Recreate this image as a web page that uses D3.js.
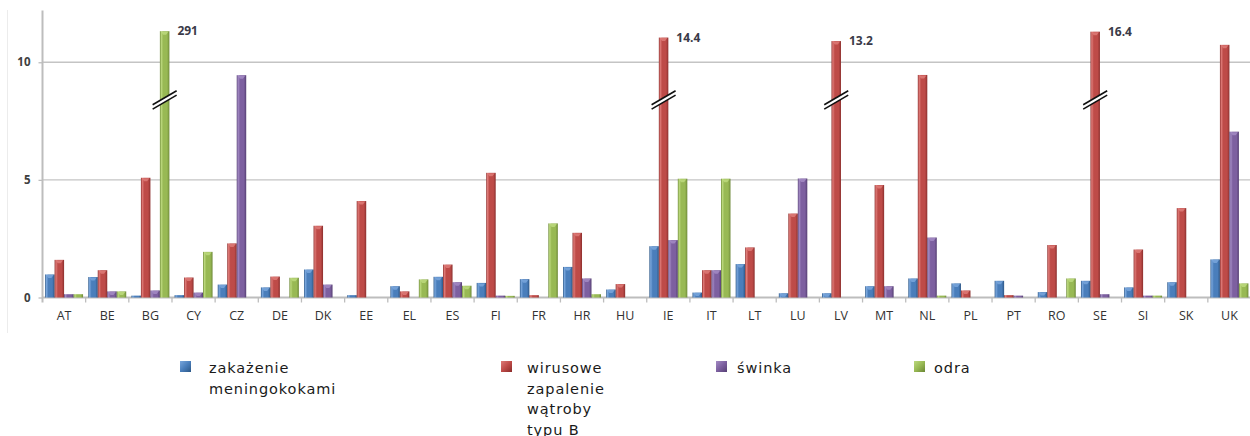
<!DOCTYPE html>
<html>
<head>
<meta charset="utf-8">
<script src="https://cdn.jsdelivr.net/npm/d3@7"></script>
<style>
  html, body { margin: 0; padding: 0; background: #fff; }
  svg { display: block; }
</style>
</head>
<body>
<svg id="chart" width="1250" height="436"></svg>
<script>
// Country codes along the x axis
const categories = ["AT","BE","BG","CY","CZ","DE","DK","EE","EL","ES","FI","FR","HR","HU",
                    "IE","IT","LT","LU","LV","MT","NL","PL","PT","RO","SE","SI","SK","UK"];

// Rates per 100 000 population, one array per disease
const meningococcal = [0.98,0.87,0.08,0.10,0.55,0.43,1.19,0.10,0.48,0.88,0.62,0.78,1.30,0.34,
                       2.18,0.21,1.42,0.18,0.18,0.48,0.81,0.60,0.71,0.23,0.71,0.43,0.65,1.62];
const hepatitisB    = [1.60,1.16,5.09,0.85,2.30,0.89,3.05,4.10,0.26,1.40,5.30,0.10,2.75,0.57,
                       14.4,1.16,2.13,3.57,13.2,4.78,9.46,0.30,0.10,2.23,16.4,2.04,3.80,10.74];
const mumps         = [0.14,0.26,0.30,0.21,9.45,0,0.55,0,0,0.65,0.08,0,0.81,0,
                       2.44,1.16,0,5.06,0,0.48,2.55,0,0.08,0,0.14,0.08,0,7.05];
const measles       = [0.14,0.26,291,1.94,0,0.84,0,0,0.77,0.50,0.07,3.15,0.14,0,
                       5.05,5.05,0,0,0,0,0.08,0,0,0.81,0,0.08,0,0.60];

const yTicks = [0, 5, 10];

const seriesNames = ["zakażenie\nmeningokokami", "wirusowe\nzapalenie\nwątroby\ntypu B", "świnka", "odra"];
const seriesValues = [meningococcal, hepatitisB, mumps, measles];

// Bevelled bar colours: dark edge, highlight, base, shade
const palette = [
  { dark: "#2b5685", light: "#79a6dc", base: "#4a7ebb", shade: "#3a679c" },
  { dark: "#8a2b29", light: "#de7b78", base: "#be4b48", shade: "#a13c3a" },
  { dark: "#563f74", light: "#a38bc4", base: "#7d60a0", shade: "#664d85" },
  { dark: "#6a8634", light: "#bcd97e", base: "#98b954", shade: "#819f45" }
];

const svg = d3.select("#chart");
const defs = svg.append("defs");

palette.forEach((c, i) => {
  const g = defs.append("linearGradient").attr("id", "bar" + i)
    .attr("x1", "0%").attr("x2", "100%").attr("y1", "0%").attr("y2", "0%");
  [[0, c.dark], [0.14, c.light], [0.35, c.base], [0.75, c.base], [0.9, c.shade], [1, c.dark]]
    .forEach(([o, col]) => g.append("stop").attr("offset", o).attr("stop-color", col));
  const lg = defs.append("linearGradient").attr("id", "leg" + i)
    .attr("x1", "0%").attr("x2", "100%").attr("y1", "0%").attr("y2", "100%");
  [[0, c.light], [0.5, c.base], [1, c.dark]]
    .forEach(([o, col]) => lg.append("stop").attr("offset", o).attr("stop-color", col));
});

// Plot geometry
const x0 = 42.5, x1 = 1251, yBase = 297.5;

const x = d3.scaleBand().domain(categories).range([x0, x1]).paddingInner(0).paddingOuter(0);
const xs = d3.scaleBand().domain(d3.range(4)).range([2.6, x.bandwidth() - 2.6]).padding(0);
const y = d3.scaleLinear().domain([0, 12.2]).range([yBase, 10.5]);

// Broken axis: values above the break are compressed into the top of the plot
const brk = d3.scaleLinear().domain([0, 10.8, 13.2, 16.4, 291]).range([0, 10.8, 10.9, 11.3, 11.32]);
const breakAt = 8.4;
const isBroken = v => v > 12;

const fontAxis = "'Open Sans', 'Liberation Sans', sans-serif";

// faint chart-area edge on the left
svg.append("line").attr("x1", 7.5).attr("x2", 7.5).attr("y1", 10).attr("y2", 333)
  .attr("stroke", "#ececec").attr("stroke-width", 1);

// Gridlines
svg.append("g").selectAll("line").data(yTicks.filter(d => d > 0)).join("line")
  .attr("x1", x0).attr("x2", 1250)
  .attr("y1", d => y(d)).attr("y2", d => y(d))
  .attr("stroke", "#c4c4c4").attr("stroke-width", 1.3);

// Y axis
const yAxis = svg.append("g").attr("transform", `translate(${x0},0)`)
  .call(d3.axisLeft(y).tickValues(yTicks).tickSize(4).tickPadding(8).tickFormat(d3.format("d")));
yAxis.select(".domain").attr("stroke", "#bdbdbd").attr("stroke-width", 2)
  .attr("d", `M0,${y.range()[1]}V${yBase + 5}`);
yAxis.selectAll(".tick line").attr("stroke", "#bdbdbd").attr("stroke-width", 1.3);
yAxis.selectAll(".tick text").attr("font-family", fontAxis).attr("font-size", 11.5)
  .attr("font-weight", 700).attr("fill", "#404040");

// X axis
const xAxis = svg.append("g").attr("transform", `translate(0,${yBase})`)
  .call(d3.axisBottom(x).tickSize(0).tickPadding(14));
xAxis.select(".domain").attr("stroke", "#bdbdbd").attr("stroke-width", 1.8)
  .attr("d", `M${x0},0H1250`);
xAxis.selectAll(".tick text").attr("font-family", fontAxis).attr("font-size", 12.5)
  .attr("fill", "#333");
// category separators
xAxis.append("g").selectAll("line").data(categories.slice(1)).join("line")
  .attr("x1", d => x(d)).attr("x2", d => x(d)).attr("y1", 0).attr("y2", 5)
  .attr("stroke", "#bdbdbd").attr("stroke-width", 1.3);

// Bars
const rows = [];
categories.forEach((cat, ci) => {
  seriesValues.forEach((vals, si) => {
    const v = vals[ci];
    if (v > 0) rows.push({ cat, si, v });
  });
});

const bars = svg.append("g");
const barX = d => x(d.cat) + xs(d.si);
const barW = xs.bandwidth();
const barTop = d => y(brk(d.v));

bars.selectAll("rect.bar").data(rows).join("rect").attr("class", "bar")
  .attr("x", barX).attr("width", barW)
  .attr("y", barTop).attr("height", d => Math.max(0.8, yBase - barTop(d)))
  .attr("fill", d => `url(#bar${d.si})`);

// light cap with a small bevel notch on the top of each bar
bars.selectAll("path.cap").data(rows.filter(d => yBase - barTop(d) > 4)).join("path").attr("class", "cap")
  .attr("d", d => {
    const l = barX(d) + 1, r = barX(d) + barW - 1, t = barTop(d) + 0.5, m = (l + r) / 2;
    return `M${l},${t}H${r}L${m + 1.5},${t + 3}H${m - 1.5}Z`;
  })
  .attr("fill", d => palette[d.si].light).attr("opacity", 0.85);

// Axis break marks on the truncated bars
const broken = rows.filter(d => isBroken(d.v));
const bg = svg.append("g");
broken.forEach(d => {
  const cx = barX(d) + barW / 2, cy = y(breakAt);
  const hw = 12, rise = 7, gap = 2.2;
  bg.append("path")
    .attr("d", `M${cx - hw},${cy + rise - gap}L${cx + hw},${cy - rise - gap}L${cx + hw},${cy - rise + gap}L${cx - hw},${cy + rise + gap}Z`)
    .attr("fill", "#fff");
  [-gap, gap].forEach(o => {
    bg.append("line")
      .attr("x1", cx - hw).attr("y1", cy + rise + o)
      .attr("x2", cx + hw).attr("y2", cy - rise + o)
      .attr("stroke", "#111").attr("stroke-width", 1.6);
  });
});

// Value labels for truncated bars
svg.append("g").selectAll("text").data(broken).join("text")
  .attr("x", d => barX(d) + barW + 8)
  .attr("y", d => barTop(d) + 4)
  .attr("font-family", fontAxis).attr("font-size", 12).attr("font-weight", 700)
  .attr("fill", "#3a3a48")
  .text(d => d3.format("~g")(d.v));

// Legend
const legendPos = [ { sx: 180, tx: 209 }, { sx: 501, tx: 527 }, { sx: 716, tx: 737 }, { sx: 914, tx: 934 } ];
const legend = svg.append("g");
seriesNames.forEach((name, i) => {
  const p = legendPos[i];
  legend.append("rect").attr("x", p.sx).attr("y", 361).attr("width", 11).attr("height", 11)
    .attr("fill", `url(#leg${i})`);
  const t = legend.append("text").attr("x", p.tx).attr("y", 373)
    .attr("font-family", "'DejaVu Sans', Verdana, sans-serif").attr("font-size", 14.5)
    .attr("letter-spacing", 0.9).attr("fill", "#1a1a1a");
  name.split("\n").forEach((line, li) => {
    t.append("tspan").attr("x", p.tx).attr("dy", li === 0 ? 0 : 20.5).text(line);
  });
});
</script>
</body>
</html>
